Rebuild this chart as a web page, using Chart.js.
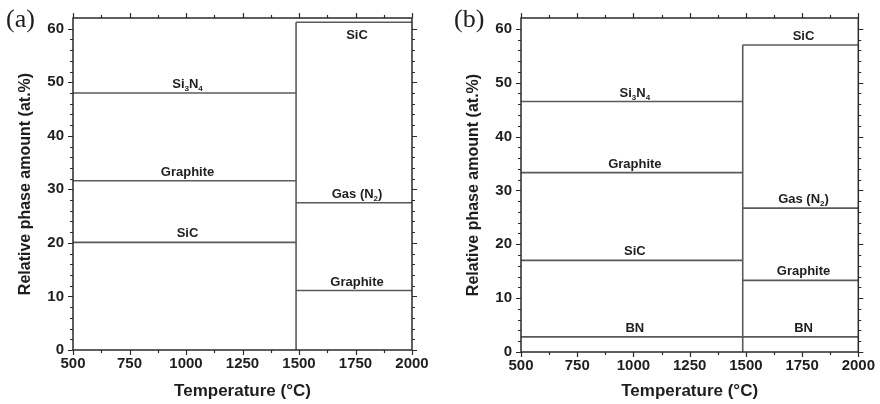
<!DOCTYPE html>
<html><head><meta charset="utf-8">
<script src="https://cdn.jsdelivr.net/npm/chart.js@4"></script>
<style>
html,body{margin:0;padding:0;background:#fff;}
#wrap{display:flex;width:880px;height:404px;}
.pane{position:relative;width:440px;height:404px;}
canvas{display:block;}
</style></head><body>
<div id="wrap"><div class="pane"><canvas id="ca" width="440" height="404"></canvas></div><div class="pane"><canvas id="cb" width="440" height="404"></canvas></div></div>
<script>
// ---- data ----
const xTicks = [500, 750, 1000, 1250, 1500, 1750, 2000];
const yTicks = [0, 10, 20, 30, 40, 50, 60];
const xLimits = [500, 2000];
const yLimits = [0, 62];
const xTitle = 'Temperature (°C)';
const yTitle = 'Relative phase amount (at.%)';

// Panel (a)
const aPanel = '(a)';
const aTransition = 1487;
const aLowPhases = ['SiC', 'Graphite', 'Si₃N₄'];
const aLowLevels = [20.1, 31.6, 48.0];
const aHighPhases = ['Graphite', 'Gas (N₂)', 'SiC'];
const aHighLevels = [11.1, 27.5, 61.2];

// Panel (b)
const bPanel = '(b)';
const bTransition = 1486;
const bLowPhases = ['BN', 'SiC', 'Graphite', 'Si₃N₄'];
const bLowLevels = [2.8, 17.0, 33.3, 46.5];
const bHighPhases = ['BN', 'Graphite', 'Gas (N₂)', 'SiC'];
const bHighLevels = [2.8, 13.3, 26.7, 57.0];

// ---- helpers ----
const LINE = '#5a5a5a';
const AXIS = '#2a2a2a';
const TEXT = '#1e1e1e';
const SUBS = '₀₁₂₃₄₅₆₇₈₉';

function splitRich(t) {
  const parts = [];
  for (const ch of t) {
    const i = SUBS.indexOf(ch);
    const sub = i >= 0;
    const c = sub ? String(i) : ch;
    if (parts.length && parts[parts.length - 1].sub === sub) parts[parts.length - 1].t += c;
    else parts.push({ t: c, sub });
  }
  return parts;
}
function drawRich(ctx, text, cx, baseline) {
  const main = 'bold 13px "Liberation Sans", Arial, sans-serif';
  const small = 'bold 8px "Liberation Sans", Arial, sans-serif';
  const parts = splitRich(text);
  let w = 0;
  parts.forEach(p => { ctx.font = p.sub ? small : main; p.w = ctx.measureText(p.t).width; w += p.w; });
  let x = cx - w / 2;
  ctx.textAlign = 'left';
  ctx.textBaseline = 'alphabetic';
  ctx.fillStyle = TEXT;
  parts.forEach(p => {
    ctx.font = p.sub ? small : main;
    ctx.fillText(p.t, x, baseline + (p.sub ? 3 : 0));
    x += p.w;
  });
}

function buildDatasets(T, lowLv, lowPh, highLv, highPh) {
  const ds = [];
  lowLv.forEach((v, i) => ds.push({ label: lowPh[i], side: 'low',
    data: [{ x: xLimits[0], y: v }, { x: T, y: v }] }));
  highLv.forEach((v, i) => ds.push({ label: highPh[i], side: 'high',
    data: [{ x: T, y: v }, { x: xLimits[1], y: v }] }));
  ds.push({ label: '', side: 'none', data: [{ x: T, y: 0 }, { x: T, y: Math.max(...highLv) }] });
  return ds.map(d => Object.assign(d, { borderColor: LINE, borderWidth: 1.6, pointRadius: 0, tension: 0, fill: false }));
}

const decorPlugin = {
  id: 'decor',
  afterDatasetsDraw(chart, args, opts) {
    const ctx = chart.ctx;
    const xs = chart.scales.x, ys = chart.scales.y;
    const a = chart.chartArea;
    ctx.save();
    // phase labels
    chart.data.datasets.forEach(d => {
      if (!d.label) return;
      const x0 = xs.getPixelForValue(d.data[0].x), x1 = xs.getPixelForValue(d.data[1].x);
      const py = ys.getPixelForValue(d.data[0].y);
      let base = py - 5;
      if (base - 11 < a.top) base = py + 17;
      drawRich(ctx, d.label, (x0 + x1) / 2 + 3, base);
    });
    // frame
    ctx.strokeStyle = AXIS;
    ctx.lineWidth = 1.5;
    ctx.strokeRect(a.left, a.top, a.right - a.left, a.bottom - a.top);
    // ticks
    ctx.lineWidth = 1.2;
    ctx.beginPath();
    const xt = [];
    for (let i = 0; i < xTicks.length; i++) {
      xt.push([xTicks[i], 5]);
      if (i < xTicks.length - 1) xt.push([(xTicks[i] + xTicks[i + 1]) / 2, 3]);
    }
    xt.forEach(([v, L]) => {
      const p = Math.round(xs.getPixelForValue(v)) + 0.5;
      ctx.moveTo(p, a.bottom); ctx.lineTo(p, a.bottom + L);
      ctx.moveTo(p, a.top); ctx.lineTo(p, a.top - L);
    });
    const yt = [];
    for (let i = 0; i < yTicks.length; i++) {
      yt.push([yTicks[i], 5]);
      const next = i < yTicks.length - 1 ? yTicks[i + 1] : yLimits[1];
      for (let m = yTicks[i] + 2; m < next; m += 2) yt.push([m, 3]);
    }
    yt.forEach(([v, L]) => {
      const p = Math.round(ys.getPixelForValue(v)) + 0.5;
      ctx.moveTo(a.left, p); ctx.lineTo(a.left - L, p);
      ctx.moveTo(a.right, p); ctx.lineTo(a.right + L, p);
    });
    ctx.stroke();
    // titles
    ctx.fillStyle = TEXT;
    ctx.font = 'bold 17px "Liberation Sans", Arial, sans-serif';
    ctx.textAlign = 'center';
    ctx.textBaseline = 'alphabetic';
    ctx.fillText(xTitle, (a.left + a.right) / 2, 396);
    ctx.save();
    ctx.translate(a.left - 43, (a.top + a.bottom) / 2);
    ctx.rotate(-Math.PI / 2);
    ctx.font = 'bold 16px "Liberation Sans", Arial, sans-serif';
    ctx.fillText(yTitle, 0, 0);
    ctx.restore();
    // panel tag
    ctx.font = '26px "Liberation Serif", "Times New Roman", serif';
    ctx.textAlign = 'left';
    ctx.fillText(opts.tag, opts.tagX, 27);
    ctx.restore();
  }
};

function makeChart(id, tag, tagX, T, lowLv, lowPh, highLv, highPh, leftW, bottomH, topPad, rightPad) {
  return new Chart(document.getElementById(id), {
    type: 'line',
    data: { datasets: buildDatasets(T, lowLv, lowPh, highLv, highPh) },
    plugins: [decorPlugin],
    options: {
      responsive: false,
      animation: false,
      devicePixelRatio: 1,
      layout: { padding: { top: topPad, right: rightPad, left: 0, bottom: 0 } },
      plugins: { legend: { display: false }, tooltip: { enabled: false }, decor: { tag, tagX } },
      scales: {
        x: {
          type: 'linear', min: xLimits[0], max: xLimits[1],
          afterBuildTicks: s => { s.ticks = xTicks.map(v => ({ value: v })); },
          afterFit: s => { s.height = bottomH; },
          grid: { display: false, drawTicks: false },
          border: { display: false },
          ticks: { padding: 5, maxRotation: 0, autoSkip: false, color: TEXT,
                   callback: v => String(v),
                   font: { family: '"Liberation Sans", Arial, sans-serif', size: 15, weight: 'bold' } }
        },
        y: {
          type: 'linear', min: yLimits[0], max: yLimits[1],
          afterBuildTicks: s => { s.ticks = yTicks.map(v => ({ value: v })); },
          afterFit: s => { s.width = leftW; },
          grid: { display: false, drawTicks: false },
          border: { display: false },
          ticks: { padding: 9, color: TEXT,
                   callback: v => String(v),
                   font: { family: '"Liberation Sans", Arial, sans-serif', size: 15, weight: 'bold' } }
        }
      }
    }
  });
}

makeChart('ca', aPanel, 6, aTransition, aLowLevels, aLowPhases, aHighLevels, aHighPhases, 73, 54, 11, 28);
makeChart('cb', bPanel, 14, bTransition, bLowLevels, bLowPhases, bHighLevels, bHighPhases, 81, 52, 13, 21);
</script>
</body></html>
